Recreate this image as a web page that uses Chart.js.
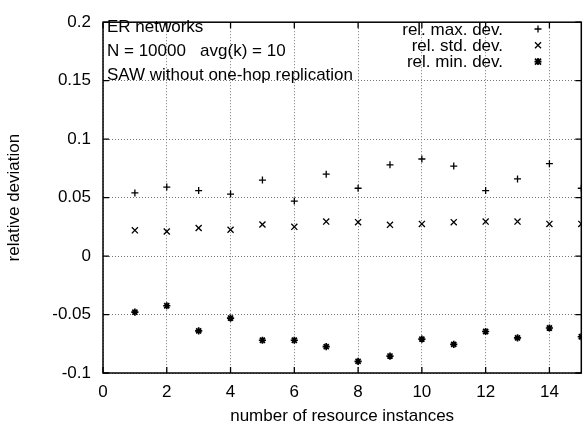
<!DOCTYPE html>
<html>
<head>
<meta charset="utf-8">
<script src="https://cdn.jsdelivr.net/npm/chart.js@4.4.0/dist/chart.umd.min.js"></script>
<style>
  html, body { margin: 0; padding: 0; background: #fff; }
  #wrap { width: 587px; height: 430px; }
</style>
</head>
<body>
<div id="wrap"><canvas id="mycanvas" width="587" height="430"></canvas></div>
<script>
// values
var instances = [1, 2, 3, 4, 5, 6, 7, 8, 9, 10, 11, 12, 13, 14, 15];
var maxDev = [0.054, 0.059, 0.056, 0.053, 0.065, 0.047, 0.070, 0.058, 0.078, 0.083, 0.077, 0.056, 0.066, 0.079, 0.058];
var stdDev = [0.022, 0.021, 0.024, 0.0225, 0.027, 0.025, 0.0295, 0.029, 0.0267, 0.0275, 0.029, 0.0295, 0.0295, 0.0275, 0.0275];
var minDev = [-0.048, -0.0425, -0.064, -0.053, -0.072, -0.072, -0.0775, -0.09, -0.0855, -0.071, -0.0755, -0.0645, -0.070, -0.0615, -0.069];
var seriesNames = ["rel. max. dev.", "rel. std. dev.", "rel. min. dev."];
var notes = ["ER networks", "N = 10000   avg(k) = 10", "SAW without one-hop replication"];
var xTitle = "number of resource instances";
var yTitle = "relative deviation";

var FONT = "'Liberation Sans', Arial, Helvetica, sans-serif";

function pts(ys){
    var out = [];
    for (var i in instances){
        out.push({x: instances[i], y: ys[i]});
    }
    return out;
}

function marker(ctx, style, x, y){
    ctx.save();
    ctx.strokeStyle = "#000";
    ctx.lineWidth = style === "star" ? 1.7 : 1.3;
    ctx.beginPath();
    if (style === "cross" || style === "star"){
        ctx.moveTo(x - 3.5, y); ctx.lineTo(x + 3.5, y);
        ctx.moveTo(x, y - 3.5); ctx.lineTo(x, y + 3.5);
    }
    if (style === "crossRot" || style === "star"){
        ctx.moveTo(x - 3, y - 3); ctx.lineTo(x + 3, y + 3);
        ctx.moveTo(x + 3, y - 3); ctx.lineTo(x - 3, y + 3);
    }
    ctx.stroke();
    ctx.restore();
}

var styles = ["cross", "crossRot", "star"];

var framePlugin = {
    id: "frame",
    afterDraw: function(chart){
        var ctx = chart.ctx;
        var a = chart.chartArea;
        var xs = chart.scales.x, ys = chart.scales.y;
        ctx.save();
        ctx.strokeStyle = "#000";
        ctx.lineWidth = 1.5;
        ctx.strokeRect(a.left, a.top, a.right - a.left, a.bottom - a.top);
        ctx.lineWidth = 1.3;
        ctx.beginPath();
        xs.ticks.forEach(function(t){
            var px = xs.getPixelForValue(t.value);
            ctx.moveTo(px, a.bottom); ctx.lineTo(px, a.bottom - 6);
            ctx.moveTo(px, a.top); ctx.lineTo(px, a.top + 6);
        });
        ys.ticks.forEach(function(t){
            var py = ys.getPixelForValue(t.value);
            ctx.moveTo(a.left, py); ctx.lineTo(a.left + 6, py);
            ctx.moveTo(a.right, py); ctx.lineTo(a.right - 6, py);
        });
        ctx.stroke();

        // notes top-left
        ctx.fillStyle = "#000";
        ctx.font = "17px " + FONT;
        ctx.textAlign = "left";
        ctx.textBaseline = "alphabetic";
        for (var i = 0; i < notes.length; i++){
            ctx.fillText(notes[i], a.left + 4, 32 + i * 24);
        }

        // key top-right
        ctx.textAlign = "right";
        for (var j = 0; j < seriesNames.length; j++){
            ctx.fillText(seriesNames[j], 503, 35 + j * 15.8);
            marker(ctx, styles[j], 538, 29 + j * 16.3);
        }

        // x axis title
        ctx.textAlign = "center";
        ctx.fillText(xTitle, (a.left + a.right) / 2, 421);
        ctx.restore();
    }
};

var gridOpts = {
    color: "#777",
    lineWidth: 1,
    drawTicks: false
};

var ctx = document.getElementById("mycanvas");
var chart = new Chart(ctx, {
    type: "scatter",
    data: {
        datasets: [
            {label: seriesNames[0], data: pts(maxDev), pointStyle: "cross", pointRadius: 3.5, borderWidth: 1.3, borderColor: "#000", backgroundColor: "#000"},
            {label: seriesNames[1], data: pts(stdDev), pointStyle: "crossRot", pointRadius: 4.3, borderWidth: 1.3, borderColor: "#000", backgroundColor: "#000"},
            {label: seriesNames[2], data: pts(minDev), pointStyle: "star", pointRadius: 3.6, borderWidth: 1.7, borderColor: "#000", backgroundColor: "#000"}
        ]
    },
    options: {
        responsive: false,
        animation: false,
        devicePixelRatio: 1,
        layout: {padding: {left: 0, right: 4, top: 13, bottom: 0}},
        plugins: {legend: {display: false}, tooltip: {enabled: false}},
        scales: {
            x: {
                type: "linear",
                min: 0, max: 15,
                grid: gridOpts,
                border: {display: false, dash: [1, 2]},
                ticks: {stepSize: 2, includeBounds: false, color: "#000", padding: 9, font: {family: FONT, size: 17}},
                afterFit: function(s){ s.height = 57; }
            },
            y: {
                min: -0.1, max: 0.2,
                grid: gridOpts,
                border: {display: false, dash: [1, 2]},
                ticks: {
                    stepSize: 0.05, color: "#000", padding: 12, font: {family: FONT, size: 17},
                    callback: function(v){ return String(Math.round(v * 100) / 100); }
                },
                title: {display: true, text: yTitle, color: "#000", font: {family: FONT, size: 17}, padding: {top: 4, bottom: 0}},
                afterFit: function(s){ s.width = 103; }
            }
        }
    },
    plugins: [framePlugin]
});
</script>
</body>
</html>
